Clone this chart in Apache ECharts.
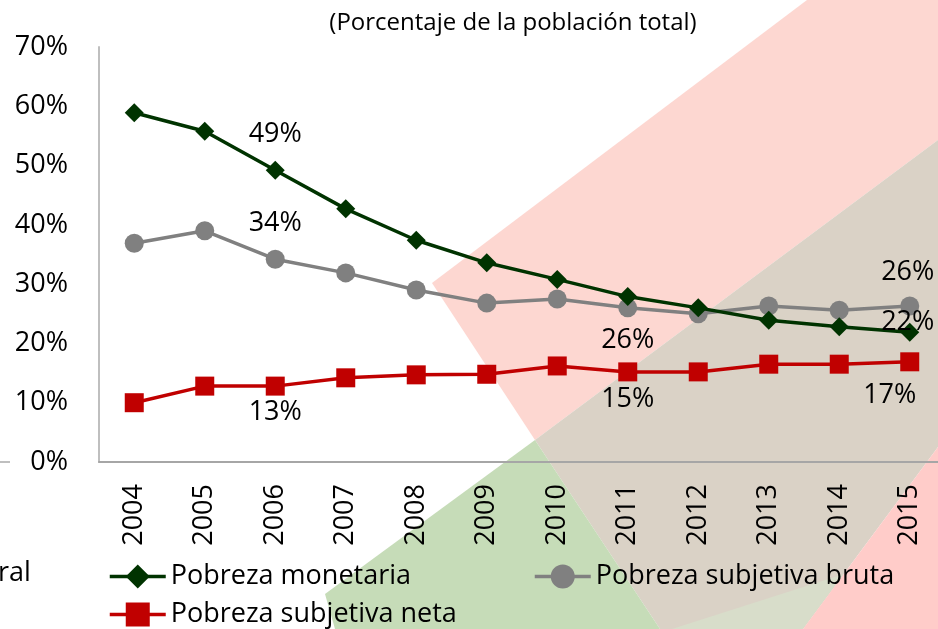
<!DOCTYPE html>
<html>
<head>
<meta charset="utf-8">
<script src="https://cdn.jsdelivr.net/npm/echarts@6/dist/echarts.min.js"></script>
<style>
html, body { margin: 0; padding: 0; background: #fff; }
#chart { width: 938px; height: 629px; }
</style>
</head>
<body>
<div id="chart"></div>
<script>
// datos (porcentaje de la población total)
const years = ['2004', '2005', '2006', '2007', '2008', '2009', '2010', '2011', '2012', '2013', '2014', '2015'];
const monetaria = [58.9, 55.8, 49.2, 42.7, 37.4, 33.6, 30.8, 27.9, 26.0, 23.9, 22.8, 21.9];
const bruta = [36.9, 39.0, 34.2, 31.9, 29.0, 26.8, 27.5, 26.0, 25.0, 26.3, 25.6, 26.3];
const neta = [10.0, 12.8, 12.8, 14.2, 14.7, 14.8, 16.2, 15.2, 15.2, 16.5, 16.5, 16.9];
const yTicks = [0, 10, 20, 30, 40, 50, 60, 70];

const FONT = 'Open Sans';

// etiquetas visibles: indice -> posicion
const labelMonetaria = { 2: { position: 'top', distance: 13 }, 11: { position: 'top', distance: 0, offset: [-2, 13] } };
const labelBruta = { 2: { position: 'top', distance: 13 }, 7: { position: 'bottom', distance: 9 }, 11: { position: 'top', distance: 11, offset: [-2, 0] } };
const labelNeta = { 2: { position: 'bottom', distance: 3 }, 7: { position: 'bottom', distance: 4 }, 11: { position: 'bottom', distance: 11, offset: [-20, 0] } };

function withLabels(values, cfg) {
    return values.map((v, i) => {
        if (!cfg[i]) return v;
        return {
            value: v,
            label: Object.assign({
                show: true,
                color: '#000',
                fontFamily: FONT,
                fontSize: 27,
                formatter: (p) => Math.round(p.value) + '%'
            }, cfg[i])
        };
    });
}

function legendAt(name, left, top) {
    return {
        data: [name],
        left: left,
        top: top,
        itemWidth: 56,
        itemHeight: 30,
        lineStyle: { width: 3.5 },
        textStyle: { fontFamily: FONT, fontSize: 27, color: '#000' }
    };
}

const chart = echarts.init(document.getElementById('chart'));

const option = {
    animation: false,
    backgroundColor: '#fff',
    title: {
        text: '(Porcentaje de la población total)',
        left: 508,
        textAlign: 'center',
        top: 6,
        textStyle: { fontFamily: FONT, fontSize: 24, fontWeight: 'normal', color: '#000' }
    },
    // el eje sigue más allá del borde derecho (imagen recortada)
    grid: { left: 99, width: 846, top: 47, bottom: 167, outerBoundsMode: 'none' },
    xAxis: {
        type: 'category',
        data: years,
        boundaryGap: true,
        axisLine: { lineStyle: { color: '#a6a6a6', width: 2 } },
        axisTick: { show: false },
        axisLabel: { rotate: 90, margin: 22, color: '#000', fontFamily: FONT, fontSize: 27 }
    },
    yAxis: {
        type: 'value',
        min: 0,
        max: 70,
        interval: 10,
        axisLine: { show: true, lineStyle: { color: '#bfbfbf', width: 2 } },
        axisTick: { show: false },
        splitLine: { show: false },
        axisLabel: {
            margin: 31,
            color: '#000',
            fontFamily: FONT,
            fontSize: 27,
            formatter: (v) => (yTicks.includes(v) ? v + '%' : '')
        }
    },
    legend: [
        legendAt('Pobreza monetaria', 103, 558),
        legendAt('Pobreza subjetiva neta', 103, 596),
        legendAt('Pobreza subjetiva bruta', 528, 558)
    ],
    graphic: [
        // formas decorativas del fondo
        { type: 'polygon', z: -1, shape: { points: [[432, 283], [807, 0], [938, 0], [938, 140], [535, 440]] }, style: { fill: '#fdd7d1' } },
        { type: 'polygon', z: -1, shape: { points: [[535, 440], [938, 140], [938, 447], [803, 629], [660, 629]] }, style: { fill: '#dad2c6' } },
        { type: 'polygon', z: -1, shape: { points: [[672, 629], [844, 574], [803, 629]] }, style: { fill: '#d8ddca' } },
        { type: 'polygon', z: -1, shape: { points: [[325, 594], [535, 440], [660, 629], [335, 629]] }, style: { fill: '#c6dcb8' } },
        { type: 'polygon', z: -1, shape: { points: [[803, 629], [938, 447], [938, 629]] }, style: { fill: '#ffccc9' } },
        // restos del gráfico vecino
        { type: 'line', shape: { x1: 0, y1: 462, x2: 10, y2: 462 }, style: { stroke: '#bfbfbf', lineWidth: 2 } },
        { type: 'text', left: -2, top: 560, style: { text: 'ral', fontFamily: FONT, fontSize: 27, fill: '#000' } }
    ],
    series: [
        {
            name: 'Pobreza monetaria',
            type: 'line',
            data: withLabels(monetaria, labelMonetaria),
            symbol: 'diamond',
            symbolSize: 19,
            lineStyle: { color: '#003300', width: 3.5 },
            itemStyle: { color: '#003300' },
            z: 4
        },
        {
            name: 'Pobreza subjetiva bruta',
            type: 'line',
            data: withLabels(bruta, labelBruta),
            symbol: 'circle',
            symbolSize: 19,
            lineStyle: { color: '#808080', width: 3.5 },
            itemStyle: { color: '#808080' },
            z: 3
        },
        {
            name: 'Pobreza subjetiva neta',
            type: 'line',
            data: withLabels(neta, labelNeta),
            symbol: 'rect',
            symbolSize: 19,
            lineStyle: { color: '#c00000', width: 3.5 },
            itemStyle: { color: '#c00000' },
            z: 3
        }
    ]
};

chart.setOption(option);
</script>
</body>
</html>
